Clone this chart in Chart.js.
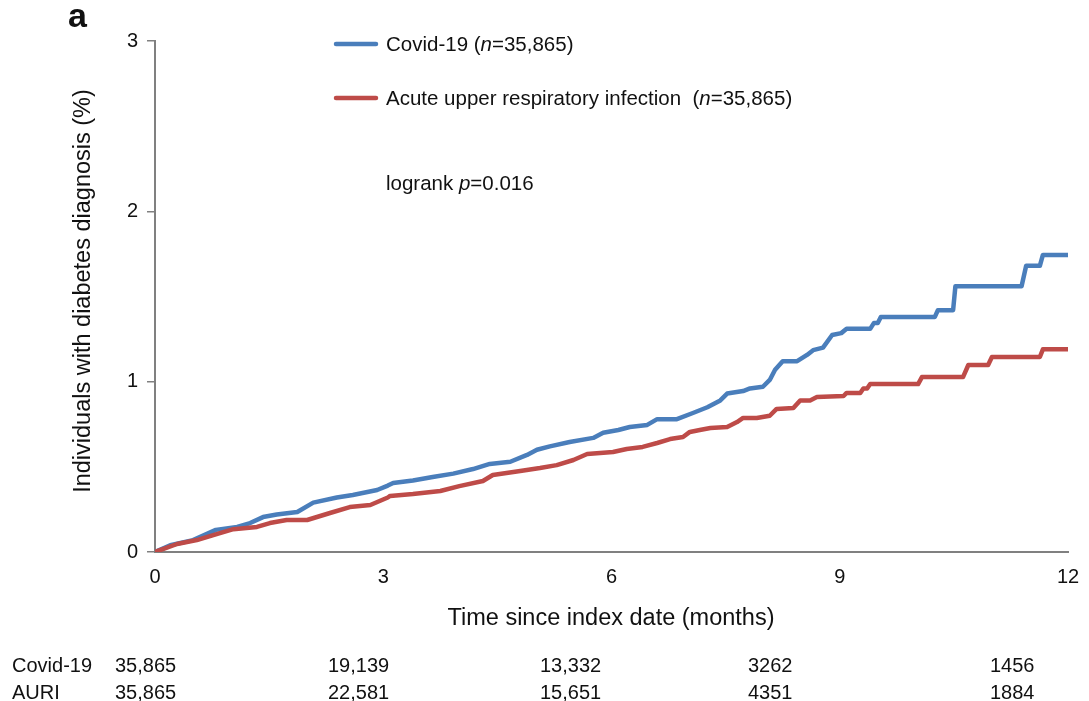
<!DOCTYPE html>
<html>
<head>
<meta charset="utf-8">
<script src="https://cdn.jsdelivr.net/npm/chart.js@4.4.1/dist/chart.umd.min.js"></script>
<style>
  html, body { margin: 0; padding: 0; background: #fff; }
  #wrap { width: 1089px; height: 701px; position: relative; }
</style>
</head>
<body>
<div id="wrap"><canvas id="kmChart"></canvas></div>
<script>
// ---- cumulative incidence, % (months since index date) ----
const covidMonths = [0, 0.2, 0.5, 0.8, 1.08, 1.25, 1.42, 1.6, 1.87, 2.08, 2.39, 2.6, 2.92, 3.06, 3.13, 3.39, 3.65, 3.92,
    4.18, 4.4, 4.67, 4.89, 5.02, 5.19, 5.45, 5.76, 5.89, 6.09, 6.24, 6.47, 6.6, 6.86, 7.07, 7.26, 7.43, 7.52, 7.73,
    7.82, 7.99, 8.08, 8.15, 8.25, 8.44, 8.57, 8.65, 8.78, 8.9, 9.02, 9.09, 9.4, 9.45, 9.5, 9.54, 10.25, 10.29, 10.49,
    10.52, 11.39, 11.45, 11.63, 11.67, 12];
const covidPct = [0, 0.04, 0.07, 0.13, 0.147, 0.17, 0.205, 0.22, 0.235, 0.29, 0.32, 0.335, 0.364, 0.39, 0.405, 0.42, 0.44, 0.46,
    0.487, 0.517, 0.53, 0.57, 0.6, 0.62, 0.646, 0.67, 0.7, 0.716, 0.734, 0.746, 0.78, 0.78, 0.816, 0.85, 0.89, 0.93, 0.945,
    0.96, 0.97, 1.01, 1.07, 1.12, 1.12, 1.157, 1.185, 1.2, 1.274, 1.285, 1.31, 1.31, 1.345, 1.345, 1.38, 1.38, 1.42, 1.42,
    1.56, 1.56, 1.68, 1.68, 1.744, 1.744];

const auriMonths = [0, 0.29, 0.55, 0.81, 1.03, 1.34, 1.51, 1.73, 2.0, 2.3, 2.56, 2.83, 3.06, 3.09, 3.39, 3.75, 4.0, 4.31,
    4.44, 4.8, 5.06, 5.28, 5.5, 5.68, 6.02, 6.2, 6.41, 6.6, 6.77, 6.94, 7.03, 7.16, 7.3, 7.52, 7.65, 7.73, 7.91, 8.08,
    8.17, 8.39, 8.48, 8.61, 8.7, 9.05, 9.09, 9.27, 9.31, 9.36, 9.4, 10.03, 10.08, 10.62, 10.69, 10.95, 11.0, 11.63, 11.67, 12];
const auriPct = [0, 0.047, 0.07, 0.105, 0.134, 0.147, 0.17, 0.188, 0.188, 0.229, 0.264, 0.276, 0.32, 0.329, 0.34, 0.358, 0.387, 0.417,
    0.452, 0.476, 0.493, 0.51, 0.54, 0.575, 0.587, 0.605, 0.617, 0.64, 0.663, 0.675, 0.705, 0.716, 0.728, 0.734, 0.763, 0.787, 0.787, 0.8,
    0.84, 0.845, 0.89, 0.89, 0.91, 0.916, 0.934, 0.934, 0.96, 0.96, 0.986, 0.986, 1.027, 1.027, 1.098, 1.098, 1.145, 1.145, 1.19, 1.19];

// ---- numbers at risk ----
const riskGroups = ["Covid-19", "AURI"];
const riskCovid = ["35,865", "19,139", "13,332", "3262", "1456"];
const riskAuri = ["35,865", "22,581", "15,651", "4351", "1884"];

const BLUE = "#4a7ebb";
const RED = "#be4b48";
const AXIS = "#808080";
const FONT = "'Liberation Sans', Arial, sans-serif";

function toPoints(xs, ys) {
    return xs.map((x, i) => ({ x: x, y: ys[i] }));
}

// draw a line of text made of plain/italic runs
function drawRuns(ctx, runs, x, y, size) {
    let cx = x;
    runs.forEach(r => {
        ctx.font = (r.italic ? "italic " : "") + size + "px " + FONT;
        ctx.fillText(r.t, cx, y);
        cx += ctx.measureText(r.t).width;
    });
}

const annotations = {
    id: "annotations",
    afterDraw(chart) {
        const ctx = chart.ctx;
        ctx.save();
        ctx.fillStyle = "#111";
        ctx.textBaseline = "middle";

        // panel letter
        ctx.font = "bold 34px " + FONT;
        ctx.fillText("a", 68, 18);

        // legend
        ctx.lineWidth = 4.5;
        ctx.lineCap = "round";
        ctx.strokeStyle = BLUE;
        ctx.beginPath(); ctx.moveTo(336, 44); ctx.lineTo(376, 44); ctx.stroke();
        ctx.strokeStyle = RED;
        ctx.beginPath(); ctx.moveTo(336, 98); ctx.lineTo(376, 98); ctx.stroke();
        drawRuns(ctx, [{ t: "Covid-19 (" }, { t: "n", italic: true }, { t: "=35,865)" }], 386, 45, 20.5);
        drawRuns(ctx, [{ t: "Acute upper respiratory infection  (" }, { t: "n", italic: true }, { t: "=35,865)" }], 386, 99, 20.5);
        drawRuns(ctx, [{ t: "logrank " }, { t: "p", italic: true }, { t: "=0.016" }], 386, 184, 20.5);

        // axis titles
        ctx.font = "23.5px " + FONT;
        ctx.textAlign = "center";
        ctx.fillText("Time since index date (months)", 611, 619);
        ctx.save();
        ctx.translate(84, 291);
        ctx.rotate(-Math.PI / 2);
        ctx.fillText("Individuals with diabetes diagnosis (%)", 0, 0);
        ctx.restore();

        // risk table
        ctx.textAlign = "left";
        ctx.font = "20px " + FONT;
        const colX = [115, 328, 540, 748, 990];
        const rowY = [666, 693];
        riskGroups.forEach((g, r) => ctx.fillText(g, 12, rowY[r]));
        riskCovid.forEach((v, i) => ctx.fillText(v, colX[i], rowY[0]));
        riskAuri.forEach((v, i) => ctx.fillText(v, colX[i], rowY[1]));
        ctx.restore();
    }
};

const ctxKm = document.getElementById("kmChart").getContext("2d");
new Chart(ctxKm, {
    type: "line",
    data: {
        datasets: [
            {
                label: "Acute upper respiratory infection",
                data: toPoints(auriMonths, auriPct),
                borderColor: RED,
                borderWidth: 4.5,
                pointRadius: 0,
                tension: 0,
                borderCapStyle: "round",
                borderJoinStyle: "round"
            },
            {
                label: "Covid-19",
                data: toPoints(covidMonths, covidPct),
                borderColor: BLUE,
                borderWidth: 4.5,
                pointRadius: 0,
                tension: 0,
                borderCapStyle: "round",
                borderJoinStyle: "round"
            }
        ]
    },
    options: {
        responsive: true,
        maintainAspectRatio: false,
        animation: false,
        layout: { padding: { top: 41, right: 21, left: 0, bottom: 0 } },
        scales: {
            x: {
                type: "linear",
                min: 0,
                max: 12,
                ticks: { stepSize: 3, padding: 13, color: "#111", font: { family: FONT, size: 20 } },
                grid: { display: false, drawTicks: false },
                border: { display: true, color: AXIS, width: 2 },
                afterFit(scale) {
                    scale.height = 701 - 552;
                    scale.paddingLeft = 0;
                    scale.paddingRight = 0;
                }
            },
            y: {
                min: 0,
                max: 3,
                ticks: { stepSize: 1, padding: 9, color: "#111", font: { family: FONT, size: 20 } },
                grid: { drawOnChartArea: false, drawTicks: true, tickLength: 8, color: AXIS, lineWidth: 1.5 },
                border: { display: true, color: AXIS, width: 2 },
                afterFit(scale) { scale.width = 155; }
            }
        },
        plugins: {
            legend: { display: false },
            tooltip: { enabled: false }
        }
    },
    plugins: [annotations]
});
</script>
</body>
</html>
